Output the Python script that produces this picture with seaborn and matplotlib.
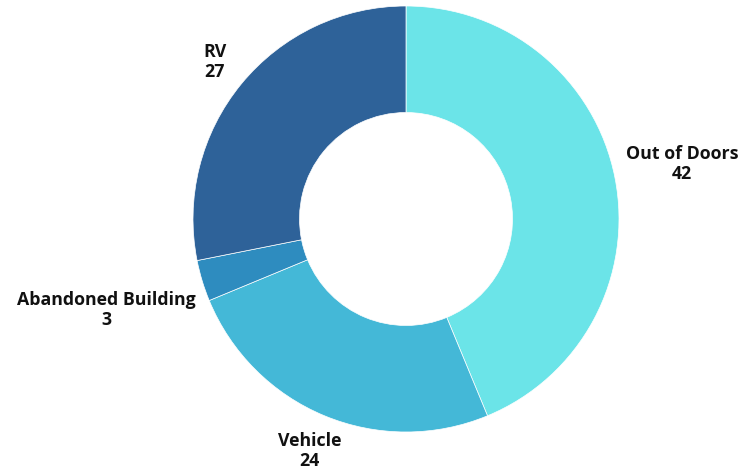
import numpy as np
import matplotlib
matplotlib.use("Agg")
import matplotlib.pyplot as plt
import seaborn as sns

sns.set_theme(style="white")
plt.rcParams['font.family'] = ['Open Sans', 'DejaVu Sans']

categories = ["Out of Doors", "Vehicle", "Abandoned Building", "RV"]
values = [42, 24, 3, 27]
colors = ["#6BE4E8", "#44B8D7", "#2E8CBF", "#2E6299"]
label_dist = [1.32, 1.18, 1.47, 1.16]

fig = plt.figure(figsize=(7.56, 4.69), dpi=100)
ax = fig.add_axes([0, 0, 1, 1])
wedges, _ = ax.pie(values, colors=colors, startangle=90, counterclock=False,
                   radius=1.0, wedgeprops=dict(width=0.5, edgecolor="white", linewidth=0.5))
ax.set_xlim(-406/213, (756-406)/213)
ax.set_ylim(-(469-219)/213, 219/213)
ax.set_aspect('auto')
ax.axis('off')

total = sum(values)
cum = 0
for cat, v, d in zip(categories, values, label_dist):
    mid = 90 - (cum + v/2) / total * 360
    cum += v
    th = np.deg2rad(mid)
    ax.text(d*np.cos(th), d*np.sin(th), f"{cat}\n{v}", ha="center", va="center",
            fontsize=12.8, fontweight="bold", color="#111111", linespacing=1.12)

fig.savefig("out.png", dpi=100)
